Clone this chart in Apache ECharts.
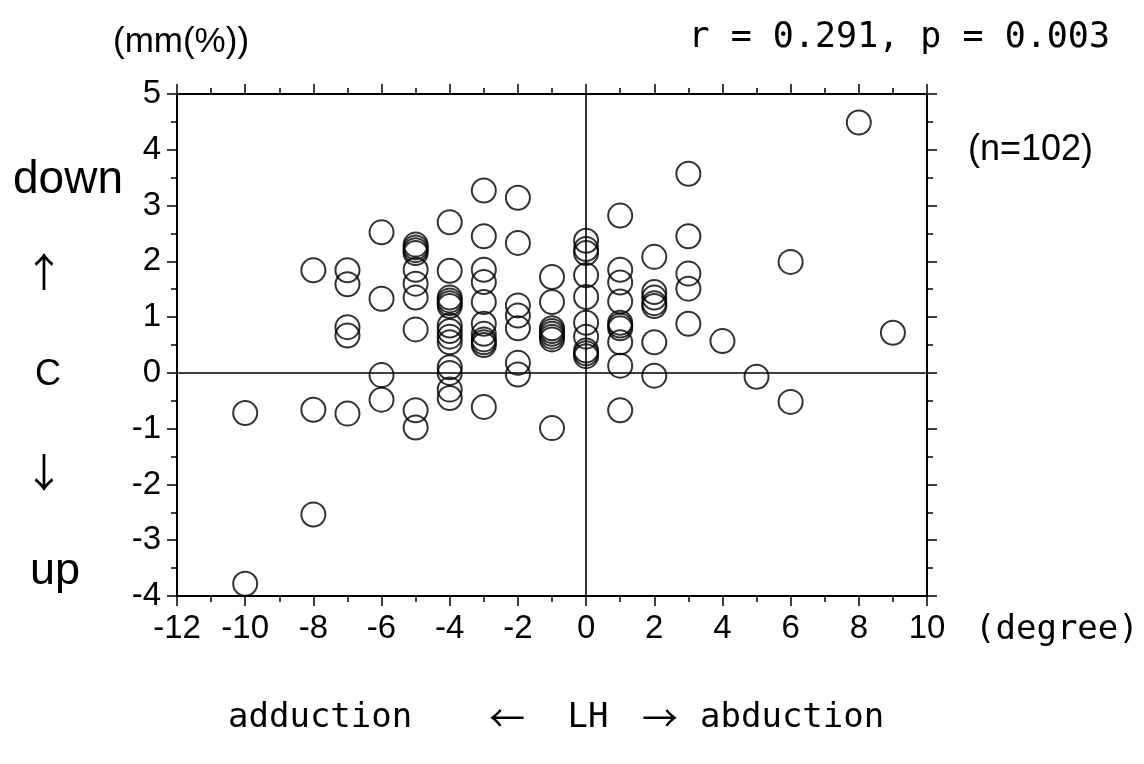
<!DOCTYPE html>
<html>
<head>
<meta charset="utf-8">
<script src="https://cdn.jsdelivr.net/npm/echarts@6/dist/echarts.min.js"></script>
<style>
  html, body { margin: 0; padding: 0; background: #fff; }
  #chart { width: 1144px; height: 764px; }
</style>
</head>
<body>
<div id="chart"></div>
<script>
// LH angle (degree) of each subject
var lhDeg = [
  -10, -10,
  -8, -8, -8,
  -7, -7, -7, -7, -7,
  -6, -6, -6, -6,
  -5, -5, -5, -5, -5, -5, -5, -5, -5, -5,
  -4, -4, -4, -4, -4, -4, -4, -4, -4, -4, -4, -4, -4, -4,
  -3, -3, -3, -3, -3, -3, -3, -3, -3, -3, -3,
  -2, -2, -2, -2, -2, -2, -2,
  -1, -1, -1, -1, -1, -1, -1, -1,
  0, 0, 0, 0, 0, 0, 0, 0, 0, 0,
  1, 1, 1, 1, 1, 1, 1, 1, 1, 1,
  2, 2, 2, 2, 2, 2, 2,
  3, 3, 3, 3, 3,
  4, 5, 6, 6, 8, 9
];
// C change (mm(%)) of each subject, same order
var cVal = [
  -0.72, -3.78,
  1.84, -0.66, -2.54,
  1.84, 1.59, 0.82, 0.67, -0.73,
  2.52, 1.33, -0.04, -0.48,
  2.3, 2.25, 2.2, 2.15, 1.85, 1.6, 1.35, 0.78, -0.67, -0.98,
  2.7, 1.83, 1.35, 1.3, 1.25, 1.2, 0.85, 0.75, 0.65, 0.55, 0.1, 0.0, -0.3, -0.45,
  3.27, 2.45, 1.85, 1.63, 1.27, 0.88, 0.7, 0.6, 0.55, 0.5, -0.61,
  3.14, 2.33, 1.21, 1.03, 0.8, 0.18, -0.03,
  1.72, 1.27, 0.8, 0.75, 0.7, 0.65, 0.6, -0.99,
  2.37, 2.22, 2.15, 1.75, 1.36, 0.9, 0.65, 0.4, 0.35, 0.3,
  2.82, 1.85, 1.62, 1.28, 0.9, 0.85, 0.8, 0.55, 0.13, -0.67,
  2.08, 1.45, 1.35, 1.25, 1.2, 0.55, -0.05,
  3.57, 2.45, 1.78, 1.51, 0.88,
  0.57, -0.07, 1.99, -0.52, 4.49, 0.72
];

var xMin = -12, xMax = 10, xStep = 2;
var yMin = -4, yMax = 5, yStep = 1;

var points = [];
for (var i = 0; i < lhDeg.length; i++) {
  points.push([lhDeg[i], cVal[i]]);
}

var monoFont = '"DejaVu Sans Mono", monospace';
var sansFont = '"Liberation Sans", Arial, sans-serif';
var cjkFont = '"Noto Sans CJK JP", sans-serif';

// 軸の共通設定
function makeAxis(min, max, step, pos, showLabel) {
  return {
    type: 'value',
    min: min,
    max: max,
    interval: step,
    position: pos,
    axisLine: { show: true, onZero: false, lineStyle: { color: '#000', width: 2 } },
    axisTick: { show: true, inside: false, length: 10, lineStyle: { color: '#000', width: 1.5 } },
    minorTick: { show: true, splitNumber: 2, length: 6, lineStyle: { color: '#000', width: 1.5 } },
    splitLine: { show: false },
    minorSplitLine: { show: false },
    axisLabel: {
      show: showLabel,
      color: '#000',
      fontFamily: sansFont,
      fontSize: 33,
      margin: 16
    }
  };
}

// 文字を置く
function txt(x, y, s, font, align) {
  return {
    type: 'text', x: x, y: y,
    style: { text: s, font: font, fill: '#000', textAlign: align || 'left', textVerticalAlign: 'middle' }
  };
}

var chart = echarts.init(document.getElementById('chart'));

var option = {
  backgroundColor: '#fff',
  animation: false,
  grid: { left: 177, right: 217, top: 94, bottom: 168 },
  xAxis: [
    makeAxis(xMin, xMax, xStep, 'bottom', true),
    makeAxis(xMin, xMax, xStep, 'top', false)
  ],
  yAxis: [
    makeAxis(yMin, yMax, yStep, 'left', true),
    makeAxis(yMin, yMax, yStep, 'right', false)
  ],
  series: [{
    type: 'scatter',
    xAxisIndex: 0,
    yAxisIndex: 0,
    symbol: 'circle',
    symbolSize: 24,
    itemStyle: { color: 'rgba(0,0,0,0)', borderColor: '#000', borderWidth: 2 },
    emphasis: { disabled: true },
    data: points,
    markLine: {
      silent: true,
      symbol: 'none',
      label: { show: false },
      lineStyle: { color: '#000', width: 1.6, type: 'solid' },
      data: [{ xAxis: 0 }, { yAxis: 0 }]
    }
  }],
  graphic: [
    txt(113, 42, '(mm(%))', '35px ' + sansFont),
    txt(1110, 38, 'r = 0.291, p = 0.003', '35px ' + monoFont, 'right'),
    txt(968, 150, '(n=102)', '36px ' + sansFont),
    txt(68, 180, 'down', '46px ' + sansFont, 'center'),
    txt(44, 272, '↑', '40px ' + cjkFont, 'center'),
    txt(48, 375, 'C', '36px ' + sansFont, 'center'),
    txt(44, 472, '↓', '40px ' + cjkFont, 'center'),
    txt(55, 572, 'up', '45px ' + sansFont, 'center'),
    txt(975, 630, '(degree)', '34px ' + monoFont),
    txt(228, 718, 'adduction', '34px ' + monoFont),
    txt(507, 718, '←', '36px ' + cjkFont, 'center'),
    txt(588, 718, 'LH', '34px ' + monoFont, 'center'),
    txt(660, 718, '→', '36px ' + cjkFont, 'center'),
    txt(700, 718, 'abduction', '34px ' + monoFont)
  ]
};

chart.setOption(option);
</script>
</body>
</html>
